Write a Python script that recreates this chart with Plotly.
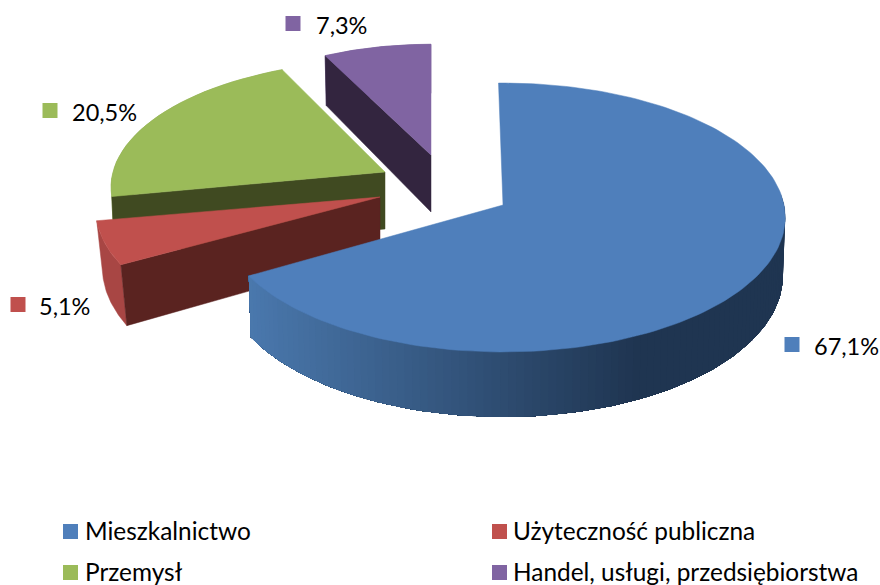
import numpy as np
import plotly.graph_objects as go

categories = ["Mieszkalnictwo", "Użyteczność publiczna", "Przemysł", "Handel, usługi, przedsiębiorstwa"]
shares = [67.1, 5.1, 20.5, 7.3]
labels = ["67,1%", "5,1%", "20,5%", "7,3%"]
colors = ["#4f7fbb", "#c0504d", "#9bbb59", "#8064a2"]
side_colors = ["#1f3551", "#a84644", "#8aa64e", "#6f5790"]
cut_colors = ["#1f3551", "#5a2320", "#404a21", "#33253f"]

# projection of each exploded slice (the source picture is in perspective, so each differs a little)
apex = [(503, 205), (380, 197), (385, 172), (431, 155)]
rx = [281, 283, 272, 250]
ry = [133.3, 133.3, 125, 121]
persp = [0.093, 0.093, 0.12, 0.093]
start_adj = [1.0, 1.4, 1.0, 1.0]
end_adj = [0.0, 2.0, 3.5, 2.0]
bottom_scale = [0.992, 0.977, 0.99, 0.99]
START = -2.0
FONT = "Lato, Carlito, sans-serif"


def project(i, theta_deg):
    t = np.radians(np.asarray(theta_deg, dtype=float))
    u, v = np.sin(t), np.cos(t)
    s = 1 / (1 + persp[i] * v)
    x = apex[i][0] + rx[i] * u * s
    y = apex[i][1] - ry[i] * v * s
    return x, y, v


def lower(i, x, y, v):
    depth = 57 - 8 * v
    return apex[i][0] + (x - apex[i][0]) * bottom_scale[i], y + depth


def poly(x, y, color, width=0.5):
    return go.Scatter(x=np.r_[x, x[0]], y=np.r_[y, y[0]], mode="lines", fill="toself",
                      fillcolor=color, line=dict(color=color, width=width),
                      hoverinfo="skip", showlegend=False)


def mix(a, b, f):
    ca = [int(a[k:k + 2], 16) for k in (1, 3, 5)]
    cb = [int(b[k:k + 2], 16) for k in (1, 3, 5)]
    return "rgb(%d,%d,%d)" % tuple(round(p + (q - p) * f) for p, q in zip(ca, cb))


def key(color, kx, ky, tx, text, size, dy):
    fig.add_trace(go.Scatter(x=[kx], y=[ky], mode="markers", hoverinfo="skip", showlegend=False,
                             marker=dict(symbol="square", size=15, color=color, line=dict(width=0))))
    fig.add_annotation(x=tx, y=ky + dy, text=text, showarrow=False, xanchor="left", xshift=-2,
                       yanchor="middle", font=dict(family=FONT, size=size, color="#000000"))


fig = go.Figure()
edges = START + np.cumsum([0] + shares) * 3.6
for i in [3, 2, 1, 0]:
    th = np.linspace(edges[i] + start_adj[i], edges[i + 1] + end_adj[i], 160 if i == 0 else 30)
    x, y, v = project(i, th)
    bx, by = lower(i, x, y, v)
    if i == 0:
        # outer wall: each piece runs to the far end, so the next one overlays it without seams
        keep = np.where(th > 85)[0]
        for a in keep[:-1]:
            f = min(1, max(0, (x[a] - 250) / 390))
            fig.add_trace(poly(np.r_[x[a:], bx[a:][::-1]], np.r_[y[a:], by[a:][::-1]],
                               mix("#4a78ad", side_colors[0], f), width=0))
    else:
        fig.add_trace(poly(np.r_[x, bx[::-1]], np.r_[y, by[::-1]], side_colors[i]))
        # cut wall on the leading edge
        ax, ay = apex[i]
        fig.add_trace(poly(np.array([x[0], ax, ax, bx[0]]),
                           np.array([y[0], ay, ay + 57, by[0]]), cut_colors[i]))
    # top face
    fig.add_trace(poly(np.r_[apex[i][0], x], np.r_[apex[i][1], y], colors[i]))

# data labels with their keys
label_pos = [(792, 344.5, 814), (18, 304.5, 39), (50, 110.5, 72), (293, 23.5, 316)]
for i, (kx, ky, tx) in enumerate(label_pos):
    key(colors[i], kx, ky, tx, labels[i], 23.5, 1)

# legend block, two columns by two rows
legend_pos = [(70.5, 531.5, 85), (499.5, 531.5, 512.5), (70.5, 572.5, 85), (499.5, 572.5, 512.5)]
for i, (kx, ky, tx) in enumerate(legend_pos):
    key(colors[i], kx, ky, tx, categories[i], 24.4, -1)

fig.update_layout(
    width=880, height=585, margin=dict(l=0, r=0, t=0, b=0, autoexpand=False),
    paper_bgcolor="white", plot_bgcolor="white", showlegend=False,
    xaxis=dict(range=[0, 880], visible=False, fixedrange=True),
    yaxis=dict(range=[585, 0], visible=False, fixedrange=True),
)
fig.write_html("out.html", config={"displayModeBar": False},
               post_script="document.body.style.margin='0';")
